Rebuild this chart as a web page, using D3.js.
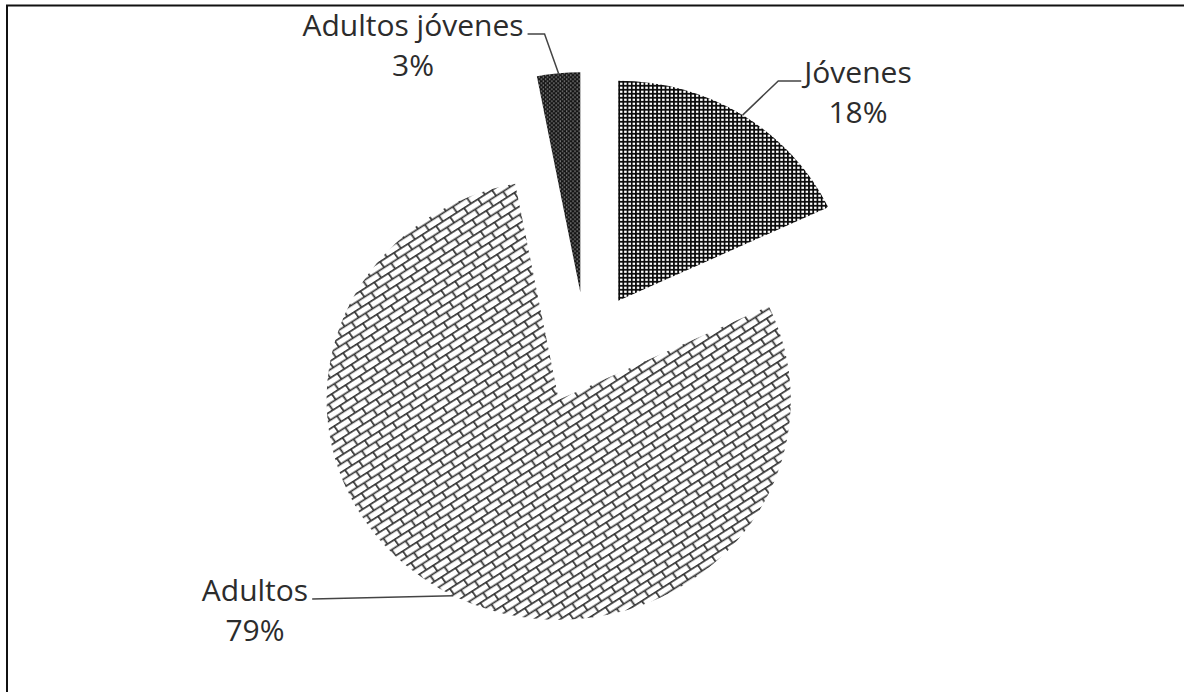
<!DOCTYPE html>
<html>
<head>
<meta charset="utf-8">
<script src="https://cdn.jsdelivr.net/npm/d3@7"></script>
<style>
  html, body { margin: 0; padding: 0; background: #fff; }
  svg { display: block; }
  .lbl { font-family: "Open Sans", "Noto Sans", sans-serif; font-size: 30px; fill: #2c2c2c; }
</style>
</head>
<body>
<svg id="chart" width="1184" height="692"></svg>
<script>
// Age groups and their share (%)
const categories = ["Jóvenes", "Adultos", "Adultos jóvenes"];
const values = [18, 79, 3];
const pctLabels = ["18%", "79%", "3%"];

// Fill pattern per slice
const patternIds = ["grid", "brick", "dots"];

// Layout (the pie is drawn slightly wider than tall)
const W = 1184, H = 692;
const cx = 586, cy = 349, R = 220, sx = 1.055, explode = 57;
const labelAnchors = [
  { x: 858, y: 83, side: "left", elbow: 23 },
  { x: 255, y: 601, side: "right", elbow: 0 },
  { x: 413, y: 36, side: "right", elbow: 17 }
];

const svg = d3.select("#chart");
svg.append("rect").attr("width", W).attr("height", H).attr("fill", "#fff");

const defs = svg.append("defs");

// Small grid
const grid = defs.append("pattern").attr("id", "grid")
  .attr("patternUnits", "userSpaceOnUse").attr("width", 4).attr("height", 4);
grid.append("rect").attr("width", 4).attr("height", 4).attr("fill", "#fff");
grid.append("path").attr("d", "M0,0.8H4M0.8,0V4")
  .attr("stroke", "#0a0a0a").attr("stroke-width", 1.7).attr("fill", "none");

// Diagonal brick
const brick = defs.append("pattern").attr("id", "brick")
  .attr("patternUnits", "userSpaceOnUse").attr("width", 16).attr("height", 14)
  .attr("patternTransform", "rotate(-34)");
brick.append("rect").attr("width", 16).attr("height", 14).attr("fill", "#fff");
brick.append("path")
  .attr("d", "M0,0.8H16M0,7.8H16M0.8,0.8V7.8M8.8,7.8V14")
  .attr("stroke", "#333").attr("stroke-width", 1.7).attr("fill", "none")
  .attr("stroke-linecap", "round");

// Dark dotted
const dots = defs.append("pattern").attr("id", "dots")
  .attr("patternUnits", "userSpaceOnUse").attr("width", 4).attr("height", 4);
dots.append("rect").attr("width", 4).attr("height", 4).attr("fill", "#141414");
dots.append("circle").attr("cx", 1).attr("cy", 1).attr("r", 0.75).attr("fill", "#aaa");
dots.append("circle").attr("cx", 3).attr("cy", 3).attr("r", 0.75).attr("fill", "#aaa");

// Frame (top and left edges)
svg.append("path").attr("d", `M7,${H}V5.5H${W}`)
  .attr("stroke", "#111").attr("stroke-width", 2).attr("fill", "none");

const pie = d3.pie().sort(null).value(d => d)(values);
const arc = d3.arc().innerRadius(0).outerRadius(R);

const g = svg.append("g").attr("transform", `translate(${cx},${cy}) scale(${sx},1)`);

pie.forEach((d, i) => {
  const mid = (d.startAngle + d.endAngle) / 2;
  const ox = Math.sin(mid) * explode, oy = -Math.cos(mid) * explode;
  d.offset = [ox, oy];
  d.mid = mid;
  g.append("path")
    .attr("d", arc(d))
    .attr("transform", `translate(${ox},${oy})`)
    .attr("fill", `url(#${patternIds[i]})`);
});

// Labels with leader lines
pie.forEach((d, i) => {
  const a = labelAnchors[i];
  const t = svg.append("text").attr("class", "lbl").attr("text-anchor", "middle");
  t.append("tspan").attr("x", a.x).attr("y", a.y).text(categories[i]);
  t.append("tspan").attr("x", a.x).attr("y", a.y + 40).text(pctLabels[i]);

  const lineY = a.y - 2;
  const tip = [cx + sx * (d.offset[0] + Math.sin(d.mid) * R),
               cy + d.offset[1] - Math.cos(d.mid) * R];
  const firstW = t.select("tspan").node().getComputedTextLength();
  const x0 = a.side === "left" ? a.x - firstW / 2 - 3 : a.x + firstW / 2 + 4;
  const x1 = a.side === "left" ? x0 - a.elbow : x0 + a.elbow;
  const pts = a.elbow ? [[x0, lineY], [x1, lineY], tip] : [[x0, lineY], tip];
  svg.append("path")
    .attr("d", d3.line()(pts))
    .attr("stroke", "#444").attr("stroke-width", 1.5).attr("fill", "none");
});
</script>
</body>
</html>
